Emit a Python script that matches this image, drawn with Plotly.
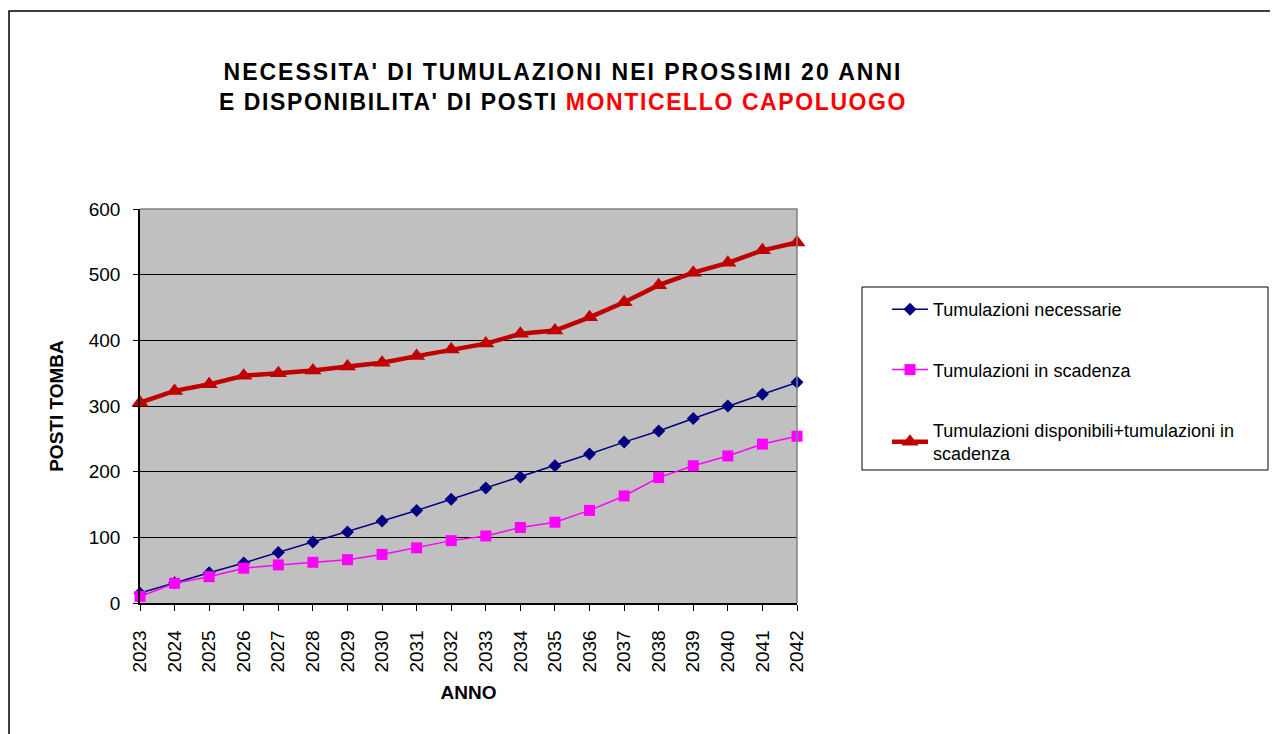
import plotly.graph_objects as go

anni = [str(a) for a in range(2023, 2043)]
necessarie = [15, 31, 46, 61, 77, 93, 108, 125, 141, 158, 175, 192, 209, 227, 245, 262, 281, 300, 318, 336]
in_scadenza = [10, 30, 40, 53, 58, 62, 66, 74, 84, 95, 102, 115, 123, 141, 163, 191, 209, 224, 242, 254]
disponibili = [305, 323, 333, 346, 350, 354, 360, 366, 376, 386, 395, 410, 415, 435, 458, 484, 503, 518, 537, 549]

nomi = ["Tumulazioni necessarie",
        "Tumulazioni in scadenza",
        "Tumulazioni disponibili+tumulazioni in<br>scadenza"]

# la pagina html ha 8px di margine sul body
OFF = 8
W, H = 1278 - OFF, 734 - OFF
L, R, T, B = 140 - OFF, 797 - OFF, 209 - OFF, 603 - OFF

font = "Liberation Sans, Arial, sans-serif"

fig = go.Figure()

fig.add_trace(go.Scatter(x=anni, y=necessarie, name=nomi[0], mode="lines+markers",
                         line=dict(color="#000080", width=1.5),
                         marker=dict(symbol="diamond", size=10, color="#000080"),
                         legendgroup="a", cliponaxis=False))
fig.add_trace(go.Scatter(x=anni, y=in_scadenza, name=nomi[1], mode="lines+markers",
                         line=dict(color="#FF00FF", width=1.5),
                         marker=dict(symbol="square", size=11, color="#FF00FF"),
                         legendgroup="b", cliponaxis=False))
fig.add_trace(go.Scatter(x=anni, y=disponibili, name=nomi[2], mode="lines+markers",
                         line=dict(color="#C00000", width=4.5),
                         marker=dict(symbol="triangle-up", size=15, color="#C00000"),
                         legendgroup="c", cliponaxis=False))

# coordinate pixel del riferimento -> coordinate paper
def px_x(p):
    return (p - OFF - L) / (R - L)

def px_y(p):
    return (B - (p - OFF)) / (B - T)

# cornice esterna, bordo area grafico, riquadro legenda
fig.add_shape(type="rect", xref="paper", yref="paper",
              x0=px_x(9), x1=px_x(1280), y0=px_y(736), y1=px_y(11),
              line=dict(color="black", width=1.5))
fig.add_shape(type="path", xref="paper", yref="paper",
              path="M 0 1 L 1 1 L 1 0", line=dict(color="#808080", width=1.5))
fig.add_shape(type="rect", xref="paper", yref="paper",
              x0=px_x(862), x1=px_x(1268), y0=px_y(470), y1=px_y(287),
              line=dict(color="black", width=1))

sp = "<span style='letter-spacing:2px'>"
fig.update_layout(
    width=W, height=H, autosize=False,
    margin=dict(l=L, r=W - R, t=T, b=H - B, pad=0),
    paper_bgcolor="white",
    plot_bgcolor="#C0C0C0",
    font=dict(family=font, size=18, color="black"),
    title=dict(text="<b>" + sp + "NECESSITA' DI TUMULAZIONI NEI PROSSIMI 20 ANNI</span><br>"
                    "<span style='letter-spacing:1.6px'>E DISPONIBILITA' DI POSTI </span>"
                    "<span style='color:#FF0000;letter-spacing:1.6px'>MONTICELLO CAPOLUOGO</span></b>",
               xref="container", yref="container", x=(563 - OFF) / W, xanchor="center",
               y=1 - (80 - OFF) / H, yanchor="middle",
               font=dict(family=font, size=23, color="black")),
    legend=dict(x=px_x(887), y=px_y(291), xanchor="left", yanchor="top",
                bgcolor="rgba(0,0,0,0)", borderwidth=0,
                traceorder="grouped", tracegroupgap=34,
                font=dict(family=font, size=18), itemwidth=36),
    xaxis=dict(type="category", range=[0, len(anni) - 1],
               showgrid=False, showline=True, linecolor="black", linewidth=1.5,
               ticks="outside", ticklen=6, tickcolor="black", tickangle=-90,
               ticklabelstandoff=12,
               tickfont=dict(size=19),
               title=dict(text="<b>ANNO</b>", standoff=14, font=dict(size=19))),
    yaxis=dict(range=[0, 600], dtick=100, showgrid=True, gridcolor="black", gridwidth=1.2,
               showline=True, linecolor="black", linewidth=1.5, zeroline=False,
               ticks="outside", ticklen=5, tickcolor="black",
               ticklabelstandoff=9,
               tickfont=dict(size=19),
               title=dict(text="<b>POSTI TOMBA</b>", standoff=20, font=dict(size=19))),
)

fig.write_html("out.html")
